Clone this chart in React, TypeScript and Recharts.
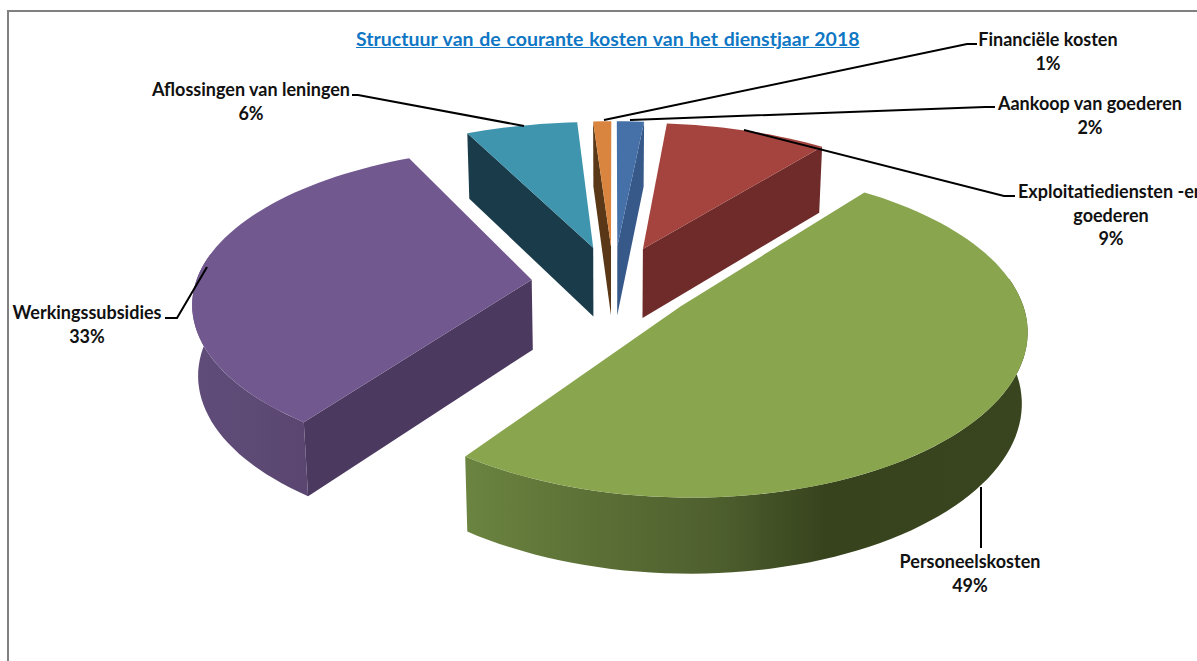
import React from "react";
import { PieChart, Pie, Cell } from "recharts";

const categories = ["Aankoop van goederen", "Exploitatiediensten -en goederen", "Personeelskosten", "Werkingssubsidies", "Aflossingen van leningen", "Financiële kosten"];
const values = [1.5, 9.0, 49.4, 32.9, 6.2, 1];
const topColors = ["#4570a8", "#a5443f", "#89a54e", "#71588f", "#3f95ae", "#d9853f"];
const wallColors = ["#37598a", "#6e2b2a", "#38451e", "#4b395f", "#1a3c4a", "#5a3716"];
const arcStops: [number, string][][] = [
  [[0, "#37598a"], [1, "#37598a"]], [[0, "#6e2b2a"], [1, "#6e2b2a"]],
  [[0, "#6b8440"], [0.25, "#5a6e35"], [0.45, "#4e5f2e"], [0.64, "#37431d"], [1, "#38451e"]],
  [[0, "#604c79"], [0.5, "#5d4a75"], [1, "#5a4670"]], [[0, "#1a3c4a"], [1, "#1a3c4a"]], [[0, "#5a3716"], [1, "#5a3716"]],
];
// label box (text centre x, first-line baseline y, lines) and leader polyline
const labelLayout = [
  { x: 1090, y: 110, lines: ["Aankoop van goederen"], leader: [[995, 107], [985, 107], [630, 120]] },
  { x: 1111, y: 198, lines: ["Exploitatiediensten -en", "goederen"], leader: [[1015, 196], [1004, 196], [744, 130]] },
  { x: 970, y: 568, lines: ["Personeelskosten"], leader: [[981, 548], [981, 487]] },
  { x: 87, y: 319, lines: ["Werkingssubsidies"], leader: [[165, 318], [177, 318], [207, 267]] },
  { x: 251, y: 96, lines: ["Aflossingen van leningen"], leader: [[352, 95], [358, 95], [524, 126]] },
  { x: 1048, y: 46, lines: ["Financiële kosten"], leader: [[977, 44], [967, 44], [604, 120]] },
];

const RATIO = 0.46, PERSP_X = 0.13, PERSP_Y = 0.152, EXPLODE = 0.245, DEPTH = 70, CONVERGE = 0.014;
const FONT = "Lato, 'Open Sans', sans-serif";

function Wedge(props: any) {
  const { cx, cy, outerRadius: R, startAngle, endAngle, fill, index } = props;
  const a0 = 90 - startAngle, a1 = 90 - endAngle;
  const rad = (d: number) => (d * Math.PI) / 180;
  const mid = rad((a0 + a1) / 2);
  const ox = EXPLODE * Math.sin(mid), oy = -EXPLODE * Math.cos(mid);
  const proj = (r: number, deg: number, h: number) => {
    const X = ox + r * Math.sin(rad(deg));
    const Y = oy - r * Math.cos(rad(deg));
    const px = 1 / (1 - PERSP_X * Y);
    const py = 1 / (1 - PERSP_Y * Y);
    return [cx + R * X * px * (1 - (CONVERGE * h) / DEPTH), cy + R * RATIO * Y * py + h * (1 + (px - 1) * 0.5)];
  };
  const arc = (from: number, to: number, h: number) => {
    const n = Math.max(2, Math.ceil(Math.abs(to - from) / 2));
    return Array.from({ length: n + 1 }, (_, i) => proj(1, from + ((to - from) * i) / n, h));
  };
  const path = (pts: number[][]) => pts.map((q, i) => `${i ? "L" : "M"}${q[0].toFixed(1)},${q[1].toFixed(1)}`).join("") + "Z";
  const radial = (deg: number) => path([proj(0, 0, 0), proj(1, deg, 0), proj(1, deg, DEPTH), proj(0, 0, DEPTH)]);
  const showStart = Math.sin(rad(a0)) < -0.001;
  const showEnd = Math.sin(rad(a1)) > 0.001;
  const f0 = Math.max(a0, 80), f1 = Math.min(a1, 280);
  const hasArc = f1 > f0;
  const top = arc(a0, a1, 0);
  const gid = `arcGrad${index}`;
  let gx0 = 0, gx1 = 1, wall = "";
  if (hasArc) {
    const upper = arc(f0, f1, 0);
    const lower = arc(f0, f1, DEPTH).reverse();
    wall = path([...upper, ...lower]);
    const xs = upper.map((q) => q[0]);
    gx0 = Math.min(...xs);
    gx1 = Math.max(...xs);
  }
  const stops = arcStops[index];
  return (
    <g>
      {hasArc && (
        <defs>
          <linearGradient id={gid} gradientUnits="userSpaceOnUse" x1={gx0} x2={gx1} y1={0} y2={0}>
            {stops.map((c, i) => <stop key={i} offset={c[0]} stopColor={c[1]} />)}
          </linearGradient>
        </defs>
      )}
      {showStart && <path d={radial(a0)} fill={wallColors[index]} />}
      {showEnd && <path d={radial(a1)} fill={wallColors[index]} />}
      {hasArc && <path d={wall} fill={`url(#${gid})`} />}
      <path d={path([proj(0, 0, 0), ...top])} fill={fill} />
    </g>
  );
}

function SliceLabel(props: any) {
  const { index, value } = props;
  const l = labelLayout[index];
  const all = [...l.lines, `${Math.round(value)}%`];
  return (
    <g>
      <polyline points={l.leader.map((q) => q.join(",")).join(" ")} fill="none" stroke="#000" strokeWidth={2} />
      {all.map((t, i) => (
        <text key={i} x={l.x} y={l.y + i * 23.5} textAnchor="middle" fontFamily={FONT} fontWeight={700} fontSize={18} fill="#111">{t}</text>
      ))}
    </g>
  );
}

const data = categories.map((name, i) => ({ name, value: values[i] }));

export default function App() {
  return (
    <div style={{ position: "absolute", left: 0, top: 0, width: 1197, height: 661, overflow: "hidden", background: "#fff" }}>
      <div style={{ position: "absolute", left: 7, top: 10, width: 1300, height: 800, border: "2px solid #808080", boxSizing: "border-box" }} />
      <div style={{ position: "absolute", left: 356, top: 27, fontFamily: FONT, fontWeight: 700, fontSize: 19.5, wordSpacing: 1, color: "#0f77c4", textDecoration: "underline", whiteSpace: "nowrap" }}>
        Structuur van de courante kosten van het dienstjaar 2018
      </div>
      <div style={{ position: "absolute", left: 0, top: 0 }}>
        <PieChart width={1197} height={661} margin={{ top: 0, right: 0, bottom: 0, left: 0 }}>
          <Pie data={data} dataKey="value" nameKey="name" cx={613.5} cy={283} outerRadius={336} startAngle={90} endAngle={-270}
            stroke="none" isAnimationActive={false} shape={Wedge} label={SliceLabel} labelLine={false}>
            {data.map((d, i) => <Cell key={d.name} fill={topColors[i]} />)}
          </Pie>
        </PieChart>
      </div>
    </div>
  );
}
